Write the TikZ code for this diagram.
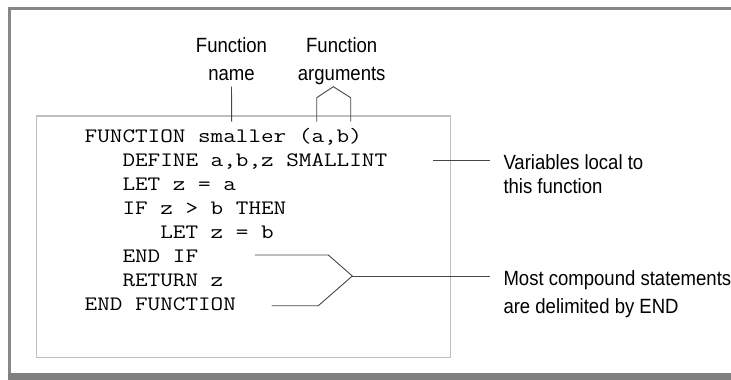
\documentclass[tikz,border=0pt]{standalone}
\usepackage{fontspec}
\usepackage{graphicx}
\setmainfont{Liberation Sans}[FakeStretch=0.9]
\newlength\codecw
\newcommand\codetxt[1]{\settowidth\codecw{M}\pgfmathsetmacro\codescl{12.6/\codecw}\scalebox{\codescl}[1]{#1}}
\begin{document}
\begin{tikzpicture}[x=1pt,y=-1pt,
  frame/.style={fill=black!47,draw=none},
  codebox/.style={draw=black!25,line width=1.3pt},
  codeline/.style={anchor=base west,inner sep=0pt,font=\ttfamily\fontsize{20.5}{24}\selectfont},
  lbl/.style={inner sep=0pt,font=\fontsize{20.6}{28.3}\selectfont},
  conn/.style={draw=black!72,line width=0.9pt}]
\useasboundingbox (0,0) rectangle (731,380);
% outer frame
\fill[frame] (8,7.3) rectangle (731,10.2);
\fill[frame] (8,7.3) rectangle (11,374);
\fill[fill=black!50] (8,373.3) rectangle (731,380);
% inner box
\draw[codebox] (36.5,116) rectangle (450.5,357.7);
% code lines
\node[codeline] (l1) at (84.5,142.7) {\codetxt{FUNCTION smaller (a,b)}};
\node[codeline] (l2) at (122.3,166.7) {\codetxt{DEFINE a,b,z SMALLINT}};
\node[codeline] (l3) at (122.3,190.7) {\codetxt{LET z = a}};
\node[codeline] (l4) at (122.3,214.7) {\codetxt{IF z > b THEN}};
\node[codeline] (l5) at (160.1,238.7) {\codetxt{LET z = b}};
\node[codeline] (l6) at (122.3,262.7) {\codetxt{END IF}};
\node[codeline] (l7) at (122.3,286.7) {\codetxt{RETURN z}};
\node[codeline] (l8) at (84.5,310.7) {\codetxt{END FUNCTION}};
% labels
\node[lbl,anchor=north,align=center] (fname) at (231.5,37) {Function\\name};
\node[lbl,anchor=north,align=center] (fargs) at (341.7,37) {Function\\arguments};
\node[lbl,anchor=north west,align=left,font=\fontsize{20.6}{23.8}\selectfont] (vars) at (503.3,154.5) {Variables local to\\this function};
\node[lbl,anchor=north west,align=left,font=\fontsize{20.6}{28}\selectfont] (most) at (503.3,270.5) {Most compound statements\\are delimited by END};
% coordinates
\coordinate (nameend) at (231.7,121.7);
\coordinate (argpeak) at (333.3,86.7);
\coordinate (argL) at (316.7,97.7);
\coordinate (argR) at (350.7,97.7);
\coordinate (argLb) at (316.7,121.7);
\coordinate (argRb) at (350.7,121.7);
\coordinate (varsS) at (433.3,160.7);
\coordinate (ifS) at (255,255);
\coordinate (ifK) at (328.3,255);
\coordinate (fnS) at (271.7,305.7);
\coordinate (fnK) at (318.3,305.7);
\coordinate (tip) at (352.3,276);
% connectors
\draw[conn] (fname.south) ++(0,5.7) -- (nameend);
\draw[conn] (argLb) -- (argL) -- (argpeak) -- (argR) -- (argRb);
\draw[conn] (varsS) -- ([xshift=-13.3pt]vars.west |- varsS);
\draw[conn] (ifS) -- (ifK) -- (tip) -- (fnK) -- (fnS);
\draw[conn] (tip) -- ([xshift=-13.3pt]most.west |- tip);
\end{tikzpicture}
\end{document}
